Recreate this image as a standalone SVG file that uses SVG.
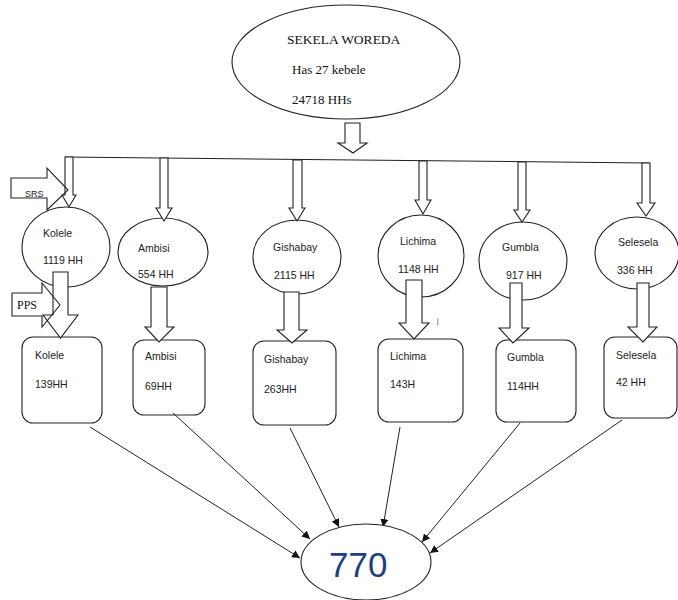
<svg xmlns="http://www.w3.org/2000/svg" width="678" height="600" viewBox="0 0 678 600">
<defs>
<style>
.shape{fill:#fff;stroke:#222;stroke-width:1.1}
.blk{fill:#fff;stroke:#222;stroke-width:1.1;stroke-linejoin:miter}
.side{fill:none;stroke:#222;stroke-width:1.1}
.lbl{font-family:"Liberation Sans",Arial,sans-serif;font-size:10.5px;fill:#222}
.ser{font-family:"Liberation Serif","Times New Roman",serif;fill:#111}
.con{stroke:#222;stroke-width:1;fill:none;marker-end:url(#ah)}
</style>
<marker id="ah" viewBox="0 0 10 10" refX="10" refY="5" markerWidth="8" markerHeight="8" markerUnits="userSpaceOnUse" orient="auto">
<path d="M0,0 L10,5 L0,10 z" fill="#111"/>
</marker>
</defs>
<rect width="678" height="600" fill="#fff"/>

<g id="woreda">
<ellipse class="shape" cx="346" cy="62" rx="114" ry="57"/>
<text class="ser" x="287" y="44" font-size="13.5">SEKELA WOREDA</text>
<text class="ser" x="292" y="74" font-size="13">Has 27 kebele</text>
<text class="ser" x="292" y="104" font-size="13">24718 HHs</text>
</g>

<g id="kebele-ellipses">
<g id="e-kolele"><ellipse class="shape" cx="66" cy="247" rx="44" ry="40"/><text class="lbl" x="43" y="237">Kolele</text><text class="lbl" x="43" y="264">1119 HH</text></g>
<g id="e-ambisi"><ellipse class="shape" cx="163" cy="252" rx="45" ry="34"/><text class="lbl" x="138" y="252">Ambisi</text><text class="lbl" x="138" y="278">554 HH</text></g>
<g id="e-gishabay"><ellipse class="shape" cx="297" cy="257" rx="44" ry="37"/><text class="lbl" x="273" y="251">Gishabay</text><text class="lbl" x="274" y="279">2115 HH</text></g>
<g id="e-lichima"><ellipse class="shape" cx="421" cy="256" rx="43" ry="41"/><text class="lbl" x="400" y="245">Lichima</text><text class="lbl" x="398" y="273">1148 HH</text></g>
<g id="e-gumbla"><ellipse class="shape" cx="523" cy="261" rx="44" ry="39"/><text class="lbl" x="502" y="251">Gumbla</text><text class="lbl" x="506" y="279">917 HH</text></g>
<g id="e-selesela"><ellipse class="shape" cx="637" cy="253" rx="42" ry="36"/><text class="lbl" x="618" y="246">Selesela</text><text class="lbl" x="617" y="274">336 HH</text></g>
</g>

<g id="samples">
<g id="r-kolele"><rect class="shape" x="22" y="337" width="80" height="86" rx="11"/><text class="lbl" x="35" y="359">Kolele</text><text class="lbl" x="35" y="388">139HH</text></g>
<g id="r-ambisi"><rect class="shape" x="133" y="340" width="72" height="75" rx="11"/><text class="lbl" x="145" y="360">Ambisi</text><text class="lbl" x="145" y="390">69HH</text></g>
<g id="r-gishabay"><rect class="shape" x="253" y="341" width="83" height="84" rx="11"/><text class="lbl" x="264" y="363">Gishabay</text><text class="lbl" x="264" y="393">263HH</text></g>
<g id="r-lichima"><rect class="shape" x="378" y="339" width="85" height="83" rx="11"/><text class="lbl" x="390" y="360">Lichima</text><text class="lbl" x="390" y="388">143H</text></g>
<g id="r-gumbla"><rect class="shape" x="496" y="340" width="80" height="82" rx="11"/><text class="lbl" x="507" y="361">Gumbla</text><text class="lbl" x="507" y="390">114HH</text></g>
<g id="r-selesela"><rect class="shape" x="604" y="337" width="73" height="81" rx="11"/><text class="lbl" x="616" y="359">Selesela</text><text class="lbl" x="616" y="386">42 HH</text></g>
</g>

<g id="block-arrows">
<polygon class="blk" points="345,123 360,123 360,143 367,143 353,153 338,143 345,143"/>
<line x1="65" y1="157" x2="649" y2="163" stroke="#222" stroke-width="1.1"/>
<polygon class="blk" points="65,157 73,157 73,195 76,195 69,207 62,195 65,195"/>
<polygon class="blk" points="160,158 168,158 168,208 172,208 164,221 156,208 160,208"/>
<polygon class="blk" points="293,160 302,160 302,208 305,208 297,221 289,208 293,208"/>
<polygon class="blk" points="419,161 427,161 427,200 431,200 423,214 415,200 419,200"/>
<polygon class="blk" points="518,162 526,162 526,210 530,210 522,222 514,210 518,210"/>
<polygon class="blk" points="642,163 650,163 650,203 655,203 646,216 637,203 642,203"/>

<polygon class="blk" points="53,272 68,272 68,315 78,315 60.5,338 43,315 53,315"/>
<polygon class="blk" points="151,287 167,287 167,327 174,327 159,342 145,327 151,327"/>
<polygon class="blk" points="284,292 299,292 299,330 307,330 292,343 277,330 284,330"/>
<polygon class="blk" points="406,280 422,280 422,323 429,323 414,339 399,323 406,323"/>
<polygon class="blk" points="510,283 522,283 522,328 529,328 513,343 499,328 510,328"/>
<polygon class="blk" points="637,283 649,283 649,327 657,327 643,342 628,327 637,327"/>
</g>

<g id="srs">
<polygon class="side" points="11,178 47,178 47,168 68,190 47,210 47,198 11,198"/>
<text x="25" y="197" font-family="Liberation Sans, Arial, sans-serif" font-size="9" fill="#222">SRS</text>
</g>
<g id="pps">
<polygon class="side" points="12,293 42,293 42,283 60,305 42,327 42,316 12,316"/>
<text class="ser" x="17" y="309" font-size="12">PPS</text>
</g>
<text x="437" y="323" font-family="Liberation Sans, Arial, sans-serif" font-size="7" fill="#444">j</text>

<g id="connectors">
<line class="con" x1="90" y1="427" x2="300" y2="558"/>
<line class="con" x1="173" y1="413" x2="310" y2="539"/>
<line class="con" x1="290" y1="428" x2="339" y2="527"/>
<line class="con" x1="400" y1="427" x2="383" y2="527"/>
<line class="con" x1="520" y1="423" x2="422" y2="542"/>
<line class="con" x1="622" y1="420" x2="430" y2="553"/>
</g>

<g id="total">
<ellipse class="shape" cx="366" cy="562" rx="65" ry="38"/>
<text x="329" y="577" font-family="Liberation Sans, Arial, sans-serif" font-size="35" fill="#1f3f7f">770</text>
</g>
</svg>
